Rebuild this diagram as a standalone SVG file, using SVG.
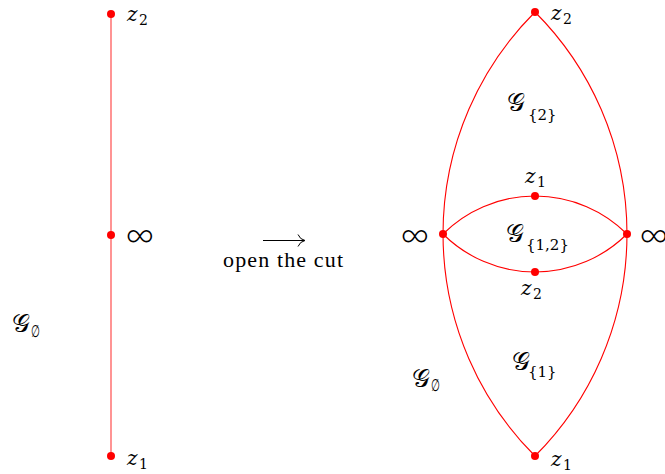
<svg xmlns="http://www.w3.org/2000/svg" width="665" height="474" viewBox="0 0 665 474">
<defs>
<style>
.e{fill:none;stroke:#ff0000;stroke-width:1.1}
.l{fill:none;stroke:#ff5a5a;stroke-width:1.3}
.d{fill:#ff0000}
</style>
</defs>
<rect width="665" height="474" fill="#fff"/>
<g id="connectors">
<line class="l" x1="111" y1="14" x2="111" y2="456"/>
<path class="e" d="M535 12 A313.9 313.9 0 0 0 535 456"/>
<path class="e" d="M535 12 A313.9 313.9 0 0 1 535 456"/>
<path class="e" d="M443 234 A130.4 130.4 0 0 1 627 234"/>
<path class="e" d="M443 234 A130.4 130.4 0 0 0 627 234"/>
<line x1="263" y1="240.5" x2="304" y2="240.5" stroke="#000" stroke-width="1"/>
<path d="M298 234.5 Q300 239.5 305 240.5 Q300 241.5 298 246.5" fill="none" stroke="#000" stroke-width="1"/>
</g>
<g id="left-z2"><circle class="d" cx="111" cy="14" r="4"/>
<text x="127" y="21" font-family="DejaVu Serif" font-style="italic" font-size="20">z</text>
<text x="139" y="25" font-family="DejaVu Serif" font-size="14">2</text></g>
<g id="left-inf"><circle class="d" cx="111" cy="235" r="4"/>
<text x="125" y="248" font-family="Lato" font-weight="300" font-size="40">∞</text></g>
<g id="left-z1"><circle class="d" cx="111" cy="456" r="4"/>
<text x="127" y="465" font-family="DejaVu Serif" font-style="italic" font-size="20">z</text>
<text x="139" y="469" font-family="DejaVu Serif" font-size="14">1</text></g>
<g id="left-G">
<text x="12" y="332" font-family="Liberation Serif" font-size="25">𝒢</text>
<text x="0" y="0" font-family="Liberation Serif" font-size="17" transform="translate(31 337) scale(0.6 1)">∅</text></g>
<g id="arrow-label"><text x="223" y="267" font-family="Liberation Serif" font-size="22" textLength="120">open the cut</text></g>
<g id="right-z2"><circle class="d" cx="535" cy="12" r="4"/>
<text x="551" y="20" font-family="DejaVu Serif" font-style="italic" font-size="20">z</text>
<text x="563" y="24" font-family="DejaVu Serif" font-size="14">2</text></g>
<g id="right-z1"><circle class="d" cx="535" cy="456" r="4"/>
<text x="551" y="466" font-family="DejaVu Serif" font-style="italic" font-size="20">z</text>
<text x="563" y="470" font-family="DejaVu Serif" font-size="14">1</text></g>
<g id="right-inf-left"><circle class="d" cx="443" cy="234" r="4"/>
<text x="400" y="248" font-family="Lato" font-weight="300" font-size="40">∞</text></g>
<g id="right-inf-right"><circle class="d" cx="627" cy="234" r="4"/>
<text x="639" y="248" font-family="Lato" font-weight="300" font-size="40">∞</text></g>
<g id="inner-z1"><circle class="d" cx="535" cy="196" r="4"/>
<text x="525" y="183" font-family="DejaVu Serif" font-style="italic" font-size="20">z</text>
<text x="537" y="187" font-family="DejaVu Serif" font-size="14">1</text></g>
<g id="inner-z2"><circle class="d" cx="535" cy="272" r="4"/>
<text x="521" y="295" font-family="DejaVu Serif" font-style="italic" font-size="20">z</text>
<text x="533" y="299" font-family="DejaVu Serif" font-size="14">2</text></g>
<g id="G2">
<text x="507" y="111" font-family="Liberation Serif" font-size="25">𝒢</text>
<text x="528" y="120" font-family="DejaVu Serif" font-size="15">{2}</text></g>
<g id="G12">
<text x="506" y="242" font-family="Liberation Serif" font-size="25">𝒢</text>
<text x="526" y="250" font-family="DejaVu Serif" font-size="15">{1,2}</text></g>
<g id="G1">
<text x="512" y="370" font-family="Liberation Serif" font-size="25">𝒢</text>
<text x="528" y="377" font-family="DejaVu Serif" font-size="15">{1}</text></g>
<g id="right-G">
<text x="412" y="387" font-family="Liberation Serif" font-size="25">𝒢</text>
<text x="0" y="0" font-family="Liberation Serif" font-size="17" transform="translate(431 391) scale(0.6 1)">∅</text></g>
</svg>
